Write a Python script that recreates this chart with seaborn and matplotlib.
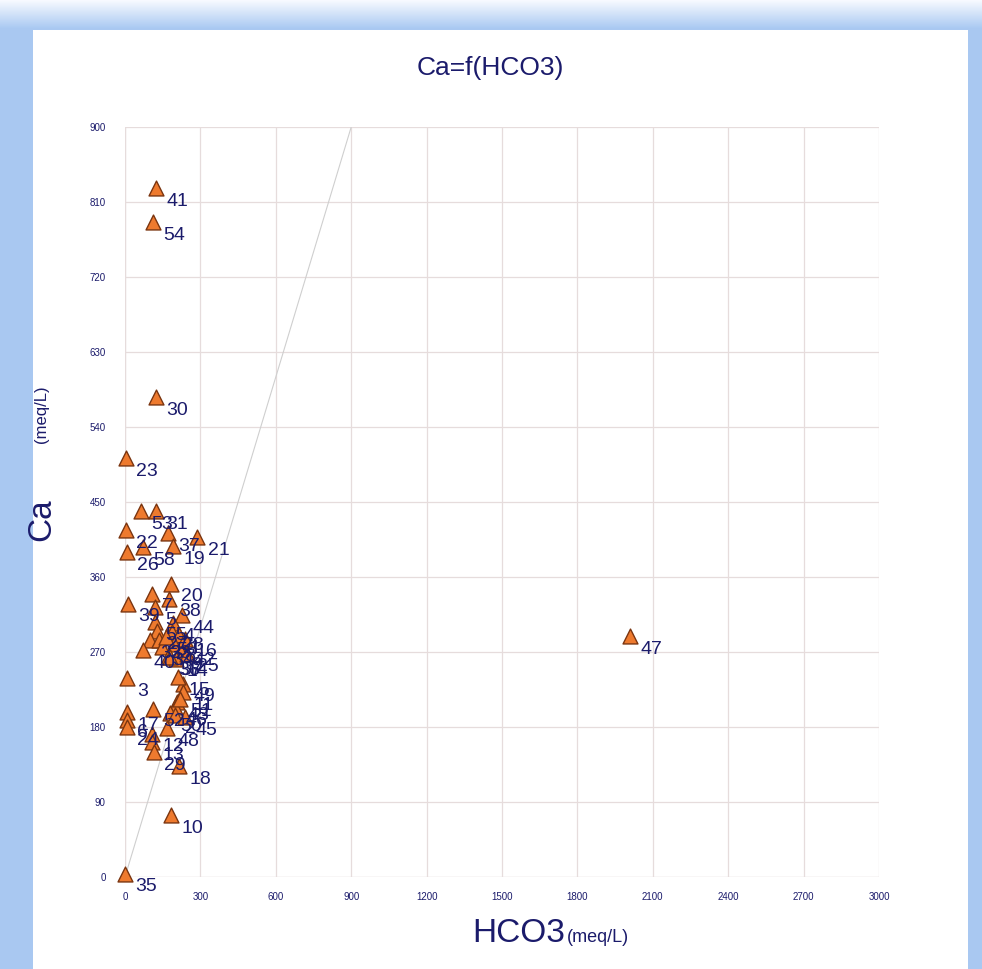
import numpy as np
import pandas as pd
import matplotlib
matplotlib.use("Agg")
import matplotlib.pyplot as plt
import seaborn as sns
from matplotlib.patches import Rectangle

# ---- data ----
sample_ids = [41, 54, 30, 23, 53, 31, 22, 37, 21, 26, 58, 19, 20, 38, 39, 7,
              5, 55, 44, 4, 27, 28, 32, 33, 34, 36, 42, 1, 8, 9, 14, 16, 25,
              56, 40, 57, 3, 49, 11, 15, 43, 46, 50, 51, 52, 2, 45, 48, 17,
              6, 24, 12, 13, 29, 18, 10, 35, 47]
hco3 = [123, 111, 123, 4, 64, 123, 4, 171, 287, 8, 72, 191, 183, 175, 12, 107,
        119, 119, 227, 191, 127, 187, 99, 135, 147, 171, 231, 215, 195, 223, 203, 239, 247,
        163, 72, 179, 8, 231, 231, 211, 207, 199, 179, 219, 111, 199, 239, 167, 8,
        8, 8, 107, 107, 115, 215, 183, 0, 2010]
ca = [827, 786, 576, 503, 439, 439, 416, 413, 408, 390, 396, 397, 352, 334, 328, 340,
      324, 306, 314, 305, 295, 294, 284, 284, 276, 264, 276, 290, 280, 270, 262, 286, 268,
      288, 272, 264, 239, 232, 222, 240, 210, 204, 197, 214, 202, 194, 192, 179, 198,
      189, 180, 172, 162, 150, 133, 74, 4, 289]

x_ticks = [0, 300, 600, 900, 1200, 1500, 1800, 2100, 2400, 2700, 3000]
y_ticks = [0, 90, 180, 270, 360, 450, 540, 630, 720, 810, 900]
title = "Ca=f(HCO3)"

df = pd.DataFrame({"id": sample_ids, "HCO3": hco3, "Ca": ca})

# ---- style ----
sns.set_style("white")
NARROW = ["Liberation Sans Narrow", "Liberation Sans", "DejaVu Sans"]
REG = ["Liberation Sans", "DejaVu Sans"]
plt.rcParams["font.family"] = REG
NAVY = "#1b1b6b"
GRID = "#e6dcdc"
TICKC = "#c08585"

W, H = 982, 969
fig = plt.figure(figsize=(W / 100, H / 100), dpi=100)

# background: blue frame with soft top gradient + white panel
bg = fig.add_axes([0, 0, 1, 1], zorder=-10)
blue = np.array([0.663, 0.788, 0.949])
top = np.array([0.97, 0.98, 1.0])
g = np.clip(np.arange(H) / 28.0, 0, 1)[:, None, None]
rows = top * (1 - g) + blue * g
img = np.repeat(rows, W, axis=1)
bg.imshow(img, aspect="auto", extent=[0, W, H, 0])
bg.add_patch(Rectangle((33, 30), 935, H - 30, facecolor="white", edgecolor="none"))
bg.set_xlim(0, W)
bg.set_ylim(H, 0)
bg.axis("off")

# main axes
ax = fig.add_axes([125 / W, (H - 877) / H, 754 / W, 750 / H])
ax.set_facecolor("none")
ax.set_xlim(0, 3000)
ax.set_ylim(0, 900)

# 1:1 reference line
ax.plot([0, 900], [0, 900], color="#cfcfcf", lw=0.8, zorder=1)

sns.scatterplot(data=df, x="HCO3", y="Ca", marker="^", s=115,
                color="#ee7a2e", edgecolor="#7a3510", linewidth=1.0,
                ax=ax, zorder=3, clip_on=False, legend=False)

for sid, xv, yv in zip(sample_ids, hco3, ca):
    ax.annotate(str(sid), (xv, yv), xytext=(7.5, -9.5), textcoords="offset points",
                ha="left", va="center", fontsize=14, color=NAVY,
                family=REG, zorder=4, annotation_clip=False)

ax.set_xticks(x_ticks)
ax.set_yticks(y_ticks)
ax.set_xticklabels([str(v) for v in x_ticks], fontsize=7, color=NAVY, family=NARROW)
ax.set_yticklabels([str(v) for v in y_ticks], fontsize=7, color=NAVY, family=NARROW)
ax.tick_params(axis="y", which="major", length=9, width=1.2, color=TICKC, pad=5)
ax.tick_params(axis="x", which="major", length=6, width=1.0, color=GRID, pad=5)
ax.grid(True, color=GRID, lw=0.9)
for sp in ax.spines.values():
    sp.set_visible(False)
ax.axhline(0, color=GRID, lw=0.9, zorder=0)
ax.axvline(0, color=GRID, lw=0.9, zorder=0)
ax.set_xlabel("")
ax.set_ylabel("")

# titles and axis labels
fig.text(490 / W, 1 - 68 / H, title, ha="center", va="center",
         fontsize=19, color=NAVY, family=NARROW)
fig.text(519 / W, 1 - 934 / H, "HCO3", ha="center", va="center",
         fontsize=24, color=NAVY, family=NARROW)
fig.text(598 / W, 1 - 937 / H, "(meq/L)", ha="center", va="center",
         fontsize=13, color=NAVY, family=NARROW)
fig.text(42 / W, 1 - 520 / H, "Ca", ha="center", va="center", rotation=90,
         fontsize=24, color=NAVY, family=NARROW)
fig.text(42 / W, 1 - 414 / H, "(meq/L)", ha="center", va="center", rotation=90,
         fontsize=12, color=NAVY, family=NARROW)

fig.savefig("out.png", dpi=100)
